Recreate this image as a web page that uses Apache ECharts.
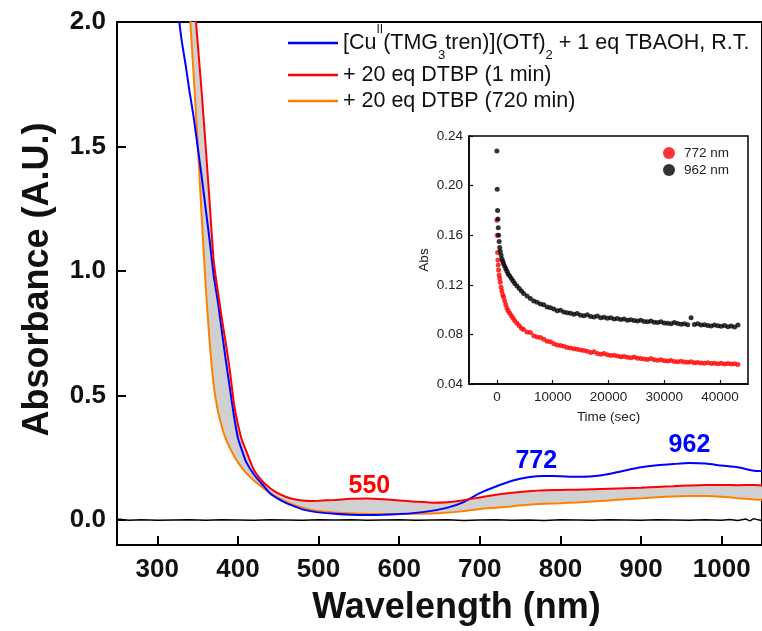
<!DOCTYPE html>
<html>
<head>
<meta charset="utf-8">
<script src="https://cdn.jsdelivr.net/npm/echarts@6/dist/echarts.min.js"></script>
<style>
  html, body { margin: 0; padding: 0; background: #ffffff; }
  #chart { width: 762px; height: 631px; }
</style>
</head>
<body>
<div id="chart"></div>
<script>
// UV-vis spectra: wavelength grid (nm) shared by the three coloured spectra
const wavelengths = [320, 325, 330, 335, 340, 345, 350, 355, 360, 365, 370, 375, 380, 385, 390, 395, 400, 405, 410,
  420, 430, 440, 450, 460, 470, 480, 490, 500,
  520, 540, 560, 580, 600, 620, 640, 660, 680, 700, 720, 740, 760, 780, 800, 820, 840, 860, 880, 900, 920, 940, 960, 980, 1000, 1020, 1040,
  1050];

// [Cu(II)(TMG3tren)](OTf)2 + 1 eq TBAOH
const absBlue = [2.25, 2.07, 1.93, 1.83, 1.72, 1.62, 1.50, 1.38, 1.25, 1.12, 0.98, 0.88, 0.76, 0.64, 0.53, 0.42, 0.33, 0.28, 0.235,
  0.182, 0.144, 0.107, 0.085, 0.068, 0.055, 0.043, 0.036, 0.031,
  0.025, 0.021, 0.020, 0.021, 0.024, 0.029, 0.037, 0.050, 0.072, 0.108, 0.135, 0.158, 0.172, 0.177, 0.176, 0.174, 0.176, 0.185, 0.199, 0.212, 0.220, 0.225, 0.229, 0.227, 0.219, 0.212, 0.198,
  0.197];

// + 20 eq DTBP, 1 min
const absRed = [3.2, 3.0, 2.8, 2.6, 2.4, 2.12, 1.92, 1.72, 1.50, 1.27, 1.04, 0.92, 0.81, 0.71, 0.60, 0.47, 0.385, 0.32, 0.28,
  0.20, 0.157, 0.128, 0.107, 0.093, 0.084, 0.079, 0.077, 0.078,
  0.081, 0.086, 0.087, 0.084, 0.079, 0.074, 0.070, 0.072, 0.080, 0.091, 0.102, 0.110, 0.116, 0.120, 0.121, 0.122, 0.124, 0.126, 0.128, 0.130, 0.133, 0.136, 0.139, 0.141, 0.141, 0.140, 0.141,
  0.139];

// + 20 eq DTBP, 720 min
const absOrange = [3.0, 2.8, 2.6, 2.33, 2.05, 1.79, 1.52, 1.22, 0.94, 0.71, 0.54, 0.44, 0.375, 0.325, 0.29, 0.258, 0.232, 0.21, 0.19,
  0.158, 0.132, 0.108, 0.089, 0.073, 0.060, 0.050, 0.042, 0.037,
  0.031, 0.027, 0.025, 0.024, 0.024, 0.025, 0.026, 0.030, 0.036, 0.045, 0.050, 0.055, 0.062, 0.066, 0.068, 0.071, 0.075, 0.079, 0.084, 0.088, 0.092, 0.095, 0.097, 0.097, 0.094, 0.088, 0.083,
  0.082];

// solvent blank
const blankWavelengths = [250, 252, 254, 258, 265, 280, 300, 320, 340, 360, 380, 400, 420, 440, 460, 480, 500,
  520, 540, 560, 580, 600, 620, 640, 660, 680, 700, 720, 740, 760, 780, 800, 820, 840, 860, 880, 900, 920, 940, 960, 980, 1000,
  1010, 1020, 1030, 1035, 1040, 1045, 1050];
const absBlank = [0.002, 0.010, 0.003, 0.001, -0.001, 0.001, -0.001, 0.000, 0.001, -0.001, 0.001, 0.000, -0.001, 0.001, 0.000, -0.001, 0.001,
  0.000, 0.001, -0.001, 0.000, 0.001, -0.001, 0.000, 0.001, -0.002, 0.000, 0.001, -0.001, 0.000, -0.002, 0.001, 0.000, -0.001, 0.001, 0.000, -0.001, 0.001, 0.000, -0.001, 0.001, -0.001,
  0.002, -0.002, 0.004, -0.003, 0.006, 0.001, -0.002];

// Kinetic traces (inset): time in seconds
const timeSec = [0, 60, 120, 180, 240, 300, 400, 500, 600, 750, 900, 1050, 1200, 1400, 1600, 1800, 2000, 2300, 2600, 2900, 3200, 3600, 4000, 4400, 4800,
  5400, 6000, 6600, 7200, 7800, 8400, 9000, 9600, 10200, 10800, 11400, 12000, 12600, 13200, 13800, 14400, 15000, 15600, 16200, 16800,
  17400, 18000, 18600, 19200, 19800, 20400, 21000, 21600, 22200, 22800, 23400, 24000, 24600, 25200, 25800, 26400, 27000, 27600, 28200,
  28800, 29400, 30000, 30600, 31200, 31800, 32400, 33000, 33600, 34200, 34800, 35400, 36000, 36600, 37200, 37800, 38400, 39000, 39600,
  40200, 40800, 41400, 42000, 42600, 43200];
const abs772 = [0.172, 0.160, 0.146, 0.140, 0.136, 0.132, 0.128, 0.125, 0.122, 0.118, 0.115, 0.112, 0.110, 0.107, 0.104, 0.101, 0.099, 0.097, 0.095, 0.093, 0.091, 0.089, 0.087, 0.085, 0.084,
  0.082, 0.0815, 0.079, 0.078, 0.0775, 0.076, 0.0745, 0.074, 0.0725, 0.0715, 0.071, 0.0705, 0.0695, 0.069, 0.0685, 0.068, 0.0675, 0.067, 0.0665, 0.0655,
  0.066, 0.0645, 0.064, 0.0645, 0.0635, 0.063, 0.0632, 0.0625, 0.062, 0.0622, 0.0615, 0.0612, 0.0618, 0.0608, 0.0605, 0.0602, 0.0598, 0.0605, 0.0595,
  0.0592, 0.0596, 0.0588, 0.0585, 0.059, 0.0582, 0.058, 0.0584, 0.0577, 0.0575, 0.058, 0.0572, 0.0574, 0.057, 0.0568, 0.0572, 0.0566, 0.0568, 0.0564,
  0.0567, 0.0562, 0.0565, 0.0561, 0.0563, 0.0558];
const abs962 = [0.228, 0.197, 0.180, 0.173, 0.166, 0.160, 0.155, 0.150, 0.147, 0.144, 0.141, 0.139, 0.137, 0.135, 0.133, 0.131, 0.129, 0.127, 0.125, 0.123, 0.121, 0.119, 0.117, 0.115, 0.113,
  0.111, 0.109, 0.107, 0.106, 0.1045, 0.104, 0.102, 0.1015, 0.1005, 0.099, 0.0995, 0.098, 0.0975, 0.097, 0.0962, 0.0968, 0.0955, 0.095, 0.0958, 0.0945,
  0.094, 0.0948, 0.0935, 0.0938, 0.093, 0.0935, 0.0925, 0.0928, 0.092, 0.0925, 0.0915, 0.0918, 0.0912, 0.0908, 0.0915, 0.0905, 0.0902, 0.0908, 0.0898,
  0.0895, 0.0902, 0.0892, 0.089, 0.0885, 0.0895, 0.0888, 0.0882, 0.0885, 0.0878, 0.0935, 0.088, 0.0885, 0.0875, 0.0878, 0.0872, 0.0868, 0.0876, 0.087,
  0.0865, 0.0872, 0.0862, 0.0868, 0.086, 0.0875];

// Tick values
const wavelengthTicks = [300, 400, 500, 600, 700, 800, 900, 1000];
const absorbanceTicks = [0, 0.5, 1.0, 1.5, 2.0];
const timeTicks = [0, 10000, 20000, 30000, 40000];

// Series names
const NAME_START = '[Cu(II)(TMG3tren)](OTf)2 + 1 eq TBAOH, R.T.';
const NAME_1MIN = '+ 20 eq DTBP (1 min)';
const NAME_720MIN = '+ 20 eq DTBP (720 min)';

const FONT = '"Liberation Sans", Arial, Helvetica, sans-serif';

const pairs = (xs, ys) => xs.map((x, i) => [x, ys[i]]);

const chart = echarts.init(document.getElementById('chart'), null, { renderer: 'canvas' });

const peakLabelStyle = (color) => ({
  show: true, position: 'inside', color: color,
  fontFamily: FONT, fontWeight: 'bold', fontSize: 25,
  formatter: p => p.name
});

const option = {
  animation: false,
  backgroundColor: '#ffffff',
  grid: [
    { left: 117, top: 22, right: -7, bottom: 84, show: true, borderColor: '#000', borderWidth: 2, backgroundColor: 'transparent' },
    { left: 469, top: 136, right: 14, bottom: 247, show: true, borderColor: '#000', borderWidth: 1.5, backgroundColor: 'transparent', z: 5 }
  ],
  legend: [
    {
      orient: 'vertical',
      left: 288, top: 24, padding: 0,
      itemWidth: 50, itemHeight: 2.5, itemGap: 0,
      icon: 'rect',
      data: [NAME_START, NAME_1MIN, NAME_720MIN],
      selectedMode: false,
      textStyle: {
        fontFamily: FONT, fontSize: 21.5, color: '#111', lineHeight: 26,
        rich: {
          t: { fontFamily: FONT, fontSize: 21.5, color: '#111', lineHeight: 38 },
          sup: { fontFamily: FONT, fontSize: 12, color: '#111', lineHeight: 24, verticalAlign: 'top' },
          sub: { fontFamily: FONT, fontSize: 13, color: '#111', lineHeight: 12, verticalAlign: 'bottom' }
        }
      },
      formatter: function (name) {
        if (name === NAME_START) {
          return '{t|[Cu}{sup|II}{t|(TMG}{sub|3}{t|tren)](OTf)}{sub|2}{t| + 1 eq TBAOH, R.T.}';
        }
        return name;
      }
    },
    {
      orient: 'vertical',
      left: 663, top: 146, padding: 0,
      itemWidth: 12, itemHeight: 12, itemGap: 3,
      icon: 'circle',
      selectedMode: false,
      data: ['772 nm', '962 nm'],
      textStyle: { fontFamily: FONT, fontSize: 13.5, color: '#222', lineHeight: 14, padding: [0, 0, 0, 4] }
    }
  ],
  xAxis: [
    {
      type: 'value', gridIndex: 0, min: 250, max: 1050,
      name: 'Wavelength (nm)', nameLocation: 'middle', nameGap: 45,
      nameTextStyle: { fontFamily: FONT, fontWeight: 'bold', fontSize: 36, color: '#111', padding: [0, 0, 0, 34] },
      axisLine: { show: true, onZero: false, lineStyle: { color: '#000', width: 2 } },
      axisTick: { show: true, inside: true, length: 9, lineStyle: { color: '#000', width: 2 }, customValues: wavelengthTicks },
      axisLabel: {
        show: true, margin: 12, fontFamily: FONT, fontWeight: 'bold', fontSize: 26, color: '#111',
        customValues: wavelengthTicks, formatter: v => String(v)
      },
      splitLine: { show: false }
    },
    {
      type: 'value', gridIndex: 1, min: -5000, max: 45000,
      name: 'Time (sec)', nameLocation: 'middle', nameGap: 26,
      nameTextStyle: { fontFamily: FONT, fontSize: 13.5, color: '#222' },
      axisLine: { show: true, onZero: false, lineStyle: { color: '#000', width: 1.5 } },
      axisTick: { show: true, inside: true, length: 4, lineStyle: { color: '#000', width: 1.2 }, customValues: timeTicks },
      axisLabel: {
        show: true, margin: 6, fontFamily: FONT, fontSize: 13.5, color: '#222',
        customValues: timeTicks, formatter: v => String(v)
      },
      splitLine: { show: false }
    }
  ],
  yAxis: [
    {
      type: 'value', gridIndex: 0, min: -0.1, max: 2.0,
      name: 'Absorbance (A.U.)', nameLocation: 'middle', nameGap: 61,
      nameTextStyle: { fontFamily: FONT, fontWeight: 'bold', fontSize: 36, color: '#111', padding: [0, 0, 0, 8] },
      axisLine: { show: true, onZero: false, lineStyle: { color: '#000', width: 2 } },
      axisTick: { show: true, inside: true, length: 9, lineStyle: { color: '#000', width: 2 }, customValues: absorbanceTicks },
      axisLabel: {
        show: true, margin: 11, fontFamily: FONT, fontWeight: 'bold', fontSize: 26, color: '#111',
        customValues: absorbanceTicks, formatter: v => v.toFixed(1)
      },
      splitLine: { show: false }
    },
    {
      type: 'value', gridIndex: 1, min: 0.04, max: 0.24, interval: 0.04,
      name: 'Abs', nameLocation: 'middle', nameGap: 38,
      nameTextStyle: { fontFamily: FONT, fontSize: 13.5, color: '#222' },
      axisLine: { show: true, onZero: false, lineStyle: { color: '#000', width: 1.5 } },
      axisTick: { show: true, inside: true, length: 4, lineStyle: { color: '#000', width: 1.2 } },
      axisLabel: { show: true, margin: 6, fontFamily: FONT, fontSize: 13.5, color: '#222', formatter: v => v.toFixed(2) },
      splitLine: { show: false }
    }
  ],
  series: [
    // grey envelope of the intermediate spectra between the 1 min and 720 min traces
    {
      name: 'envelope', type: 'custom', xAxisIndex: 0, yAxisIndex: 0,
      clip: true, silent: true, z: 1,
      data: [[600, 0.05]],
      renderItem: function (params, api) {
        const upper = wavelengths.map((w, i) => api.coord([w, absRed[i]]));
        const lower = wavelengths.map((w, i) => api.coord([w, absOrange[i]])).reverse();
        return {
          type: 'polygon',
          shape: { points: upper.concat(lower) },
          style: { fill: '#d0d0d0', stroke: null }
        };
      }
    },
    {
      name: 'blank', type: 'line', xAxisIndex: 0, yAxisIndex: 0,
      symbol: 'none', z: 2,
      lineStyle: { color: '#000', width: 1.5 },
      data: pairs(blankWavelengths, absBlank)
    },
    {
      name: NAME_720MIN, type: 'line', xAxisIndex: 0, yAxisIndex: 0,
      symbol: 'none', smooth: 0.2, z: 3,
      color: '#ff8000',
      lineStyle: { color: '#ff8000', width: 2 },
      data: pairs(wavelengths, absOrange)
    },
    {
      name: NAME_START, type: 'line', xAxisIndex: 0, yAxisIndex: 0,
      symbol: 'none', smooth: 0.2, z: 4,
      color: '#0000ff',
      lineStyle: { color: '#0000ff', width: 2 },
      data: pairs(wavelengths, absBlue),
      markPoint: {
        symbol: 'circle', symbolSize: 0, silent: true,
        label: peakLabelStyle('#0000ff'),
        data: [
          { name: '772', coord: [770, 0.236] },
          { name: '962', coord: [960, 0.300] }
        ]
      }
    },
    {
      name: NAME_1MIN, type: 'line', xAxisIndex: 0, yAxisIndex: 0,
      symbol: 'none', smooth: 0.2, z: 4,
      color: '#ff0000',
      lineStyle: { color: '#ff0000', width: 2 },
      data: pairs(wavelengths, absRed),
      markPoint: {
        symbol: 'circle', symbolSize: 0, silent: true,
        label: peakLabelStyle('#ff0000'),
        data: [
          { name: '550', coord: [563, 0.136] }
        ]
      }
    },
    // inset: decay of the 772 and 962 nm bands
    {
      name: '772 nm', type: 'scatter', xAxisIndex: 1, yAxisIndex: 1,
      symbol: 'circle', symbolSize: 5, z: 6,
      color: '#ff0000',
      itemStyle: { color: '#ff0000' },
      data: pairs(timeSec, abs772)
    },
    {
      name: '962 nm', type: 'scatter', xAxisIndex: 1, yAxisIndex: 1,
      symbol: 'circle', symbolSize: 5, z: 6,
      color: '#000000',
      itemStyle: { color: '#000000' },
      data: pairs(timeSec, abs962)
    }
  ]
};

chart.setOption(option);
</script>
</body>
</html>
